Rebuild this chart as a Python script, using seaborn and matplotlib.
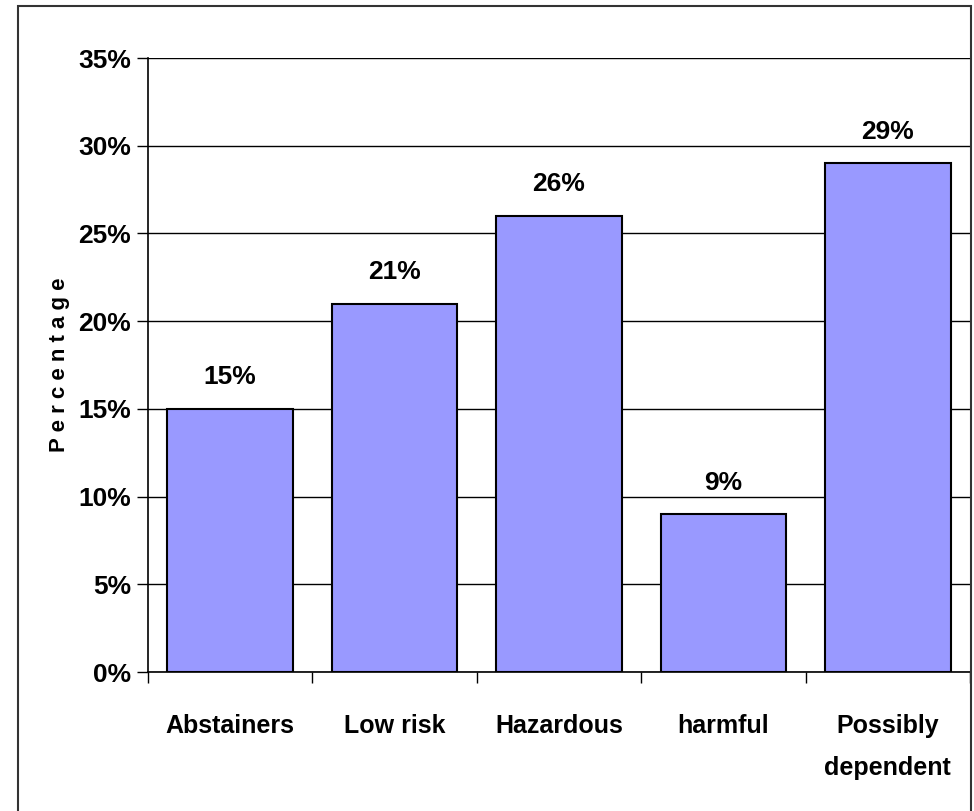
import seaborn as sns
import matplotlib.pyplot as plt
import pandas as pd
import numpy as np
from matplotlib.patches import Rectangle
from matplotlib.ticker import FuncFormatter, FixedLocator

categories = ['Abstainers', 'Low risk', 'Hazardous', 'harmful', 'Possibly\ndependent']
values = [15, 21, 26, 9, 29]
value_labels = ['15%', '21%', '26%', '9%', '29%']

df = pd.DataFrame({'group': categories, 'pct': values})

sns.set_style('white')
plt.rcParams['font.family'] = ['Liberation Sans', 'DejaVu Sans']
plt.rcParams['font.weight'] = 'bold'
plt.rcParams['text.color'] = 'black'
plt.rcParams['axes.labelcolor'] = 'black'
plt.rcParams['xtick.color'] = 'black'
plt.rcParams['ytick.color'] = 'black'

fig = plt.figure(figsize=(9.74, 8.11), dpi=100)
ax = fig.add_axes([148/974, 1 - 672/811, (970 - 148)/974, (672 - 58)/811])

sns.barplot(data=df, x='group', y='pct', color='#9999FF', saturation=1,
            width=0.765, edgecolor='black', linewidth=1.5, ax=ax, zorder=3)

for c in ax.containers:
    ax.bar_label(c, labels=value_labels, padding=14, fontsize=19, fontweight='bold')

ax.set_ylim(0, 35)
ax.set_xlim(-0.5, 4.5)
ax.set_yticks(np.arange(0, 36, 5))
ax.yaxis.set_major_formatter(FuncFormatter(lambda v, p: f'{int(v)}%'))
ax.grid(axis='y', color='black', linewidth=1, zorder=0)
ax.tick_params(axis='y', length=8, width=1, direction='out', labelsize=19, pad=4, left=True)

ax.xaxis.set_minor_locator(FixedLocator(np.arange(-0.5, 5, 1)))
ax.tick_params(axis='x', which='major', length=0, labelsize=18, pad=30)
ax.tick_params(axis='x', which='minor', length=8, width=1, direction='out', bottom=True)
for lbl in ax.get_xticklabels():
    lbl.set_linespacing(1.95)
    lbl.set_fontweight('bold')
    lbl.set_verticalalignment('top')
for lbl in ax.get_yticklabels():
    lbl.set_fontweight('bold')

ax.set_xlabel('')
ax.set_ylabel('P e r c e n t a g e', fontsize=16, fontweight='bold', labelpad=6)

for s in ['top', 'right']:
    ax.spines[s].set_visible(False)
ax.spines['left'].set_color('black')
ax.spines['bottom'].set_color('black')
ax.spines['left'].set_linewidth(1.2)
ax.spines['bottom'].set_linewidth(1.2)

fig.patches.append(Rectangle((18/974, -0.05), (971 - 18)/974, 1.05 - 6/811,
                             transform=fig.transFigure, fill=False,
                             edgecolor='#333333', linewidth=1.5, clip_on=False))

fig.savefig('out.png', dpi=100, facecolor='white')
